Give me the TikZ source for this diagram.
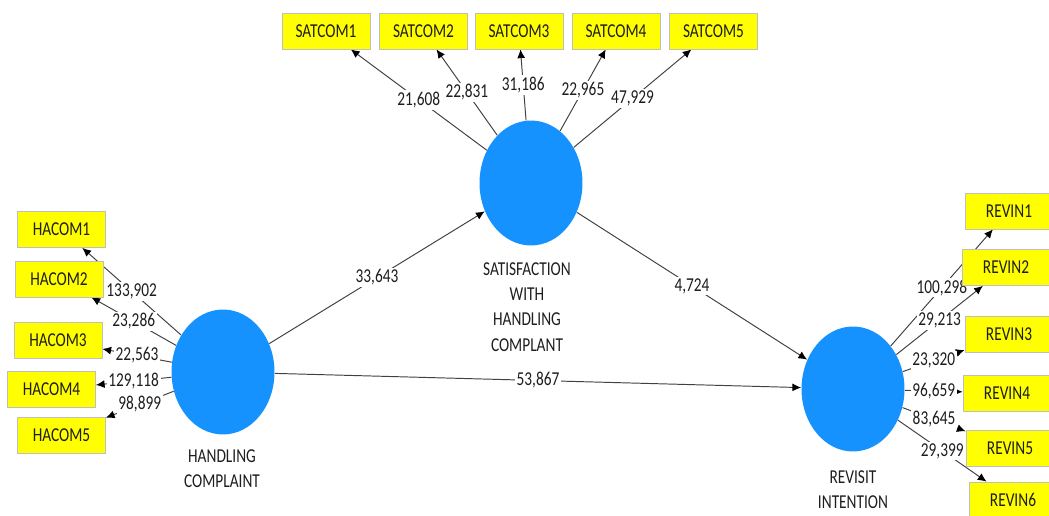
\documentclass[tikz,border=0pt]{standalone}
\usepackage{fontspec}
\setmainfont{Carlito}[FakeStretch=0.78]
\usetikzlibrary{shapes.geometric,arrows.meta,backgrounds}
\definecolor{lvblue}{RGB}{22,146,255}
\definecolor{mvyellow}{RGB}{255,255,0}
\definecolor{txtgray}{RGB}{30,30,30}
\newcommand{\lblfont}{\fontsize{11.2}{14.4}\selectfont}
\tikzset{
	latent/.style={ellipse,fill=lvblue,minimum width=2.06cm,minimum height=2.5cm,inner sep=0pt},
	manifest/.style={rectangle,fill=mvyellow,draw=black!25,minimum width=1.76cm,minimum height=0.72cm,inner sep=0pt,text=txtgray,font=\lblfont},
	conn/.style={draw=black!75,line width=0.55pt,-{Latex[length=5pt,width=4.5pt,color=black]}},
	coef/.style={fill=white,inner sep=1pt,text=txtgray,font=\lblfont},
	caption/.style={align=center,text=txtgray,font=\lblfont}
}

\begin{document}
\begin{tikzpicture}[x=0.02cm,y=-0.02cm]
			\clip (0,0) rectangle (1049,516);
			% latent variables
			\node[latent] (HC) at (223,372) {};
			\node[latent] (SAT) at (531,183) {};
			\node[latent] (REV) at (853,389) {};
			\node[caption] (HClab) at (222,469) {HANDLING\\COMPLAINT};
			\node[caption] (SATlab) at (527,307) {SATISFACTION\\WITH\\HANDLING\\COMPLANT};
			\node[caption] (REVlab) at (853,490) {REVISIT\\INTENTION};
			
			% indicators
			\node[manifest] (SATCOM1) at (326,31) {SATCOM1};
			\node[manifest] (SATCOM2) at (423.5,31) {SATCOM2};
			\node[manifest] (SATCOM3) at (519,31) {SATCOM3};
			\node[manifest] (SATCOM4) at (616,31) {SATCOM4};
			\node[manifest] (SATCOM5) at (713.5,31) {SATCOM5};
			
			\node[manifest] (HACOM1) at (61.5,229.5) {HACOM1};
			\node[manifest] (HACOM2) at (59,279) {HACOM2};
			\node[manifest] (HACOM3) at (58,340.5) {HACOM3};
			\node[manifest] (HACOM4) at (51.5,389.5) {HACOM4};
			\node[manifest] (HACOM5) at (61.5,435) {HACOM5};
			
			\node[manifest] (REVIN1) at (1009,211) {REVIN1};
			\node[manifest] (REVIN2) at (1006,267.5) {REVIN2};
			\node[manifest] (REVIN3) at (1009,334.5) {REVIN3};
			\node[manifest] (REVIN4) at (1007,393) {REVIN4};
			\node[manifest] (REVIN5) at (1010,448) {REVIN5};
			\node[manifest] (REVIN6) at (1013,500) {REVIN6};
			
			\begin{pgfonlayer}{background}
			% inner model
			\draw[conn] (HC) -- (SAT) node[midway,coef]{33,643};
			\draw[conn] (SAT) -- (REV) node[midway,coef]{4,724};
			\draw[conn] (HC) -- (REV) node[midway,coef]{53,867};
			
			% outer loadings
			\draw[conn] (SAT) -- (SATCOM1) node[midway,coef]{21,608};
			\draw[conn] (SAT) -- (SATCOM2) node[midway,coef]{22,831};
			\draw[conn] (SAT) -- (SATCOM3) node[midway,coef]{31,186};
			\draw[conn] (SAT) -- (SATCOM4) node[midway,coef]{22,965};
			\draw[conn] (SAT) -- (SATCOM5) node[midway,coef]{47,929};
			
			\draw[conn] (HC) -- (HACOM1) node[midway,coef]{133,902};
			\draw[conn] (HC) -- (HACOM2) node[midway,coef]{23,286};
			\draw[conn] (HC) -- (HACOM3) node[midway,coef]{22,563};
			\draw[conn] (HC) -- (HACOM4) node[midway,coef]{129,118};
			\draw[conn] (HC) -- (HACOM5) node[midway,coef]{98,899};
			
			\draw[conn] (REV) -- (REVIN1) node[midway,coef]{100,298};
			\draw[conn] (REV) -- (REVIN2) node[midway,coef]{29,213};
			\draw[conn] (REV) -- (REVIN3) node[midway,coef]{23,320};
			\draw[conn] (REV) -- (REVIN4) node[midway,coef]{96,659};
			\draw[conn] (REV) -- (REVIN5) node[midway,coef]{83,645};
			\draw[conn] (REV) -- (REVIN6) node[midway,coef]{29,399};
			\end{pgfonlayer}
\end{tikzpicture}
\end{document}
